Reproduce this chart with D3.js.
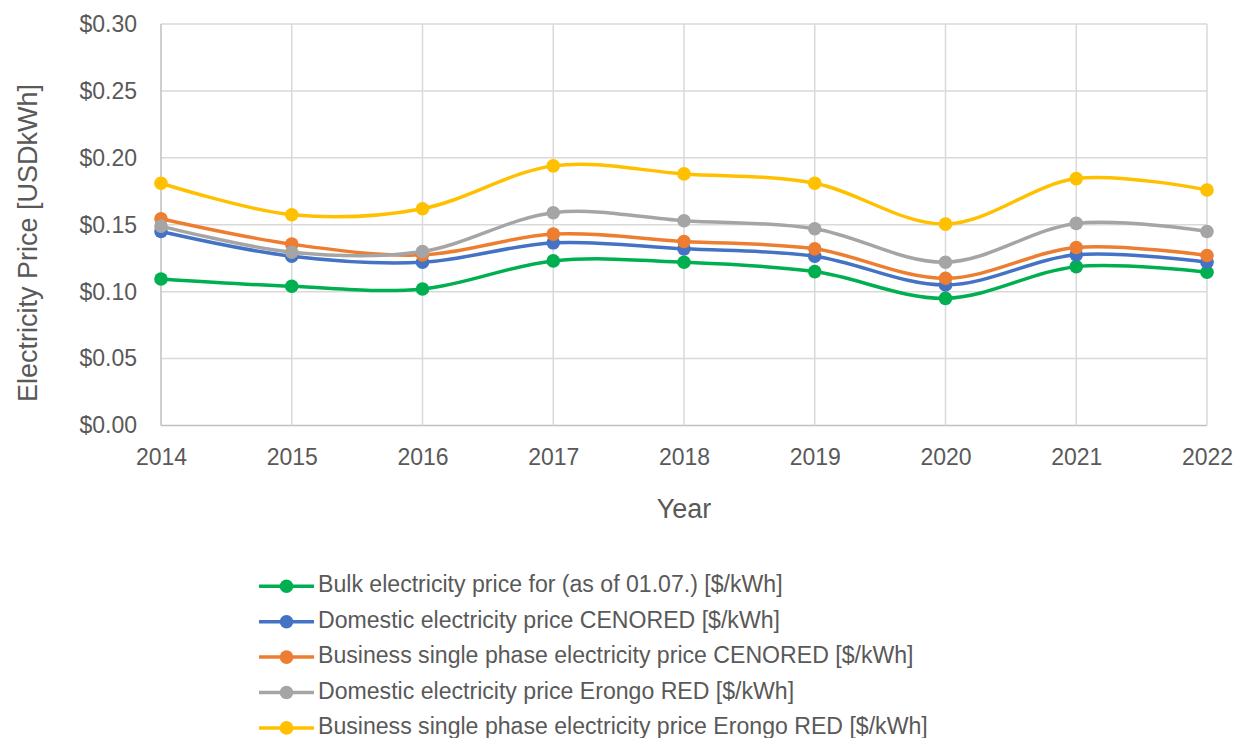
<!DOCTYPE html>
<html><head><meta charset="utf-8">
<script src="https://cdn.jsdelivr.net/npm/d3@7"></script>
<style>body{margin:0;background:#fff}svg{display:block}text{font-family:"Liberation Sans",Arial,sans-serif;fill:#595959}</style>
</head><body><svg id="c" width="1243" height="738"></svg>
<script>
const years = [2014, 2015, 2016, 2017, 2018, 2019, 2020, 2021, 2022];
const yTicks = [0, 0.05, 0.10, 0.15, 0.20, 0.25, 0.30];
const seriesNames = [
  "Bulk electricity price for (as of 01.07.) [$/kWh]",
  "Domestic electricity price CENORED [$/kWh]",
  "Business single phase electricity price CENORED [$/kWh]",
  "Domestic electricity price Erongo RED [$/kWh]",
  "Business single phase electricity price Erongo RED [$/kWh]"
];
const seriesColors = ["#00B050", "#4472C4", "#ED7D31", "#A5A5A5", "#FFC000"];
const bulk = [0.1095, 0.104, 0.102, 0.123, 0.122, 0.115, 0.095, 0.1187, 0.1145];
const domCenored = [0.145, 0.1265, 0.122, 0.1365, 0.132, 0.1265, 0.105, 0.1275, 0.122];
const busCenored = [0.1545, 0.1355, 0.1275, 0.143, 0.1375, 0.132, 0.110, 0.133, 0.127];
const domErongo = [0.149, 0.1295, 0.130, 0.159, 0.153, 0.147, 0.122, 0.151, 0.145];
const busErongo = [0.181, 0.1575, 0.162, 0.194, 0.188, 0.181, 0.1505, 0.1845, 0.176];
const seriesValues = [bulk, domCenored, busCenored, domErongo, busErongo];

const svg = d3.select("#c");
const L = 161, R = 1207, T = 24, B = 425.5;
const x = d3.scaleLinear().domain([2014, 2022]).range([L, R]);
const y = d3.scaleLinear().domain([0, 0.30]).range([B, T]);

// gridlines
const g = svg.append("g");
g.selectAll(".hg").data(yTicks).join("line")
  .attr("x1", L).attr("x2", R).attr("y1", d => y(d)).attr("y2", d => y(d))
  .attr("stroke", d => d === 0 ? "#BFBFBF" : "#D9D9D9").attr("stroke-width", 1.5);
g.selectAll(".vg").data(years).join("line")
  .attr("x1", d => x(d)).attr("x2", d => x(d)).attr("y1", T).attr("y2", B)
  .attr("stroke", (d, i) => i === 0 ? "#BFBFBF" : "#D9D9D9").attr("stroke-width", 1.5);

// axes labels via d3 axes
const yAxis = d3.axisLeft(y).tickValues(yTicks).tickFormat(d3.format("$.2f")).tickSize(0).tickPadding(24);
const ya = svg.append("g").attr("transform", `translate(${L},0)`).call(yAxis);
const xAxis = d3.axisBottom(x).tickValues(years).tickFormat(d3.format("d")).tickSize(0).tickPadding(23);
const xa = svg.append("g").attr("transform", `translate(0,${B})`).call(xAxis);
[ya, xa].forEach(a => {
  a.select(".domain").remove();
  a.selectAll("text").attr("font-size", 23).style("fill", "#595959")
    .attr("font-family", '"Liberation Sans",Arial,sans-serif');
});

// titles
svg.append("text").attr("x", 684).attr("y", 518).attr("text-anchor", "middle")
  .attr("font-size", 27).text("Year");
svg.append("text").attr("transform", "translate(37,243) rotate(-90)").attr("text-anchor", "middle")
  .attr("font-size", 27).text("Electricity Price [USDkWh]");

// lines
const line = d3.line().x((d, i) => x(years[i])).y(d => y(d)).curve(d3.curveCatmullRom.alpha(0));
seriesValues.forEach((vals, s) => {
  const sg = svg.append("g");
  sg.append("path").datum(vals).attr("d", line).attr("fill", "none")
    .attr("stroke", seriesColors[s]).attr("stroke-width", 3.5);
  sg.selectAll("circle").data(vals).join("circle")
    .attr("cx", (d, i) => x(years[i])).attr("cy", d => y(d)).attr("r", 6.8)
    .attr("fill", seriesColors[s]);
});

// legend
const lg = svg.append("g");
seriesNames.forEach((name, s) => {
  const cy = 586.3 + s * 35.4;
  lg.append("line").attr("x1", 259).attr("x2", 314).attr("y1", cy).attr("y2", cy)
    .attr("stroke", seriesColors[s]).attr("stroke-width", 3.5);
  lg.append("circle").attr("cx", 286.5).attr("cy", cy).attr("r", 6.8).attr("fill", seriesColors[s]);
  lg.append("text").attr("x", 318).attr("y", cy + 6)
    .attr("font-size", 23.1).text(name);
});
</script></body></html>
